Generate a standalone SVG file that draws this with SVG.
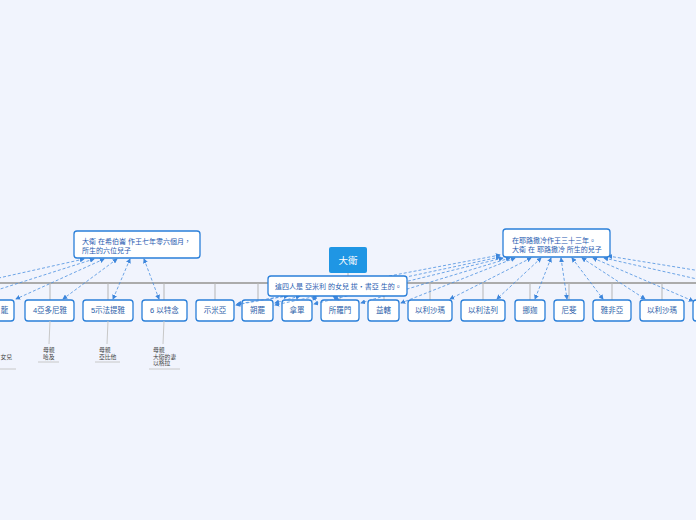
<svg xmlns="http://www.w3.org/2000/svg" width="696" height="520" viewBox="0 0 696 520">
<defs>
<style>
text{font-family:"Liberation Sans","Noto Sans CJK TC",sans-serif;}
.bg{fill:#f1f4fd;}
.node rect{fill:#fff;stroke:#2a7fd9;stroke-width:1.3;}
.node text{font-size:7.5px;fill:#2a5ea8;text-anchor:middle;}
.ann rect{fill:#fff;stroke:#2a7fd9;stroke-width:1.3;}
.ann text{font-size:7px;fill:#1f5bb0;}
.root rect{fill:#1f96e4;}
.root text{font-size:9.5px;fill:#fff;text-anchor:middle;}
.trunk{stroke:#ababab;stroke-width:2;fill:none;}
.tick{stroke:#b5b5b5;stroke-width:1;fill:none;}
.sub text{font-size:5.8px;fill:#444;}
.sub line{stroke:#c8c8c8;stroke-width:1;}
.dash{stroke:#4a8fe0;stroke-width:0.8;stroke-dasharray:3,2;fill:none;marker-start:url(#ah);marker-end:url(#ah);}
</style>
<marker id="ah" viewBox="0 0 6 6" refX="5" refY="3" markerWidth="5" markerHeight="5" orient="auto-start-reverse" markerUnits="userSpaceOnUse">
<path d="M0,0 L6,3 L0,6 z" fill="#3d86dc"/>
</marker>
</defs>
<rect class="bg" x="0" y="0" width="696" height="520"/>

<g id="trunk">
<line class="trunk" x1="0" y1="283" x2="696" y2="283"/>
<line class="tick" x1="348" y1="273" x2="348" y2="283"/>
<line class="tick" x1="-11" y1="283" x2="-11" y2="300"/>
<line class="tick" x1="50" y1="283" x2="50" y2="300"/>
<line class="tick" x1="108" y1="283" x2="108" y2="300"/>
<line class="tick" x1="164" y1="283" x2="164" y2="300"/>
<line class="tick" x1="215" y1="283" x2="215" y2="300"/>
<line class="tick" x1="258" y1="283" x2="258" y2="300"/>
<line class="tick" x1="297" y1="283" x2="297" y2="300"/>
<line class="tick" x1="340" y1="283" x2="340" y2="300"/>
<line class="tick" x1="384" y1="283" x2="384" y2="300"/>
<line class="tick" x1="430" y1="283" x2="430" y2="300"/>
<line class="tick" x1="483" y1="283" x2="483" y2="300"/>
<line class="tick" x1="530" y1="283" x2="530" y2="300"/>
<line class="tick" x1="569" y1="283" x2="569" y2="300"/>
<line class="tick" x1="612" y1="283" x2="612" y2="300"/>
<line class="tick" x1="662" y1="283" x2="662" y2="300"/>
</g>

<g id="root" class="root"><rect x="329" y="247" width="38" height="26" rx="2"/><text x="348" y="264">大衛</text></g>

<g id="n3" class="node"><rect x="-36" y="300" width="50" height="21" rx="3"/><text x="4.5" y="313">龍</text></g>
<g id="n4" class="node"><rect x="25" y="300" width="49" height="21" rx="3"/><text x="50" y="313">4亞多尼雅</text></g>
<g id="n5" class="node"><rect x="83" y="300" width="50" height="21" rx="3"/><text x="108" y="313">5示法提雅</text></g>
<g id="n6" class="node"><rect x="142" y="300" width="45" height="21" rx="3"/><text x="164.5" y="313">6 以特念</text></g>
<g id="j1" class="node"><rect x="196" y="300" width="38" height="21" rx="3"/><text x="215" y="313">示米亞</text></g>
<g id="j2" class="node"><rect x="242" y="300" width="31" height="21" rx="3"/><text x="257.5" y="313">朔罷</text></g>
<g id="j3" class="node"><rect x="282" y="300" width="30" height="21" rx="3"/><text x="297" y="313">拿單</text></g>
<g id="j4" class="node"><rect x="321" y="300" width="38" height="21" rx="3"/><text x="340" y="313">所羅門</text></g>
<g id="j5" class="node"><rect x="368" y="300" width="31" height="21" rx="3"/><text x="383.5" y="313">益轄</text></g>
<g id="j6" class="node"><rect x="408" y="300" width="44" height="21" rx="3"/><text x="430" y="313">以利沙瑪</text></g>
<g id="j7" class="node"><rect x="461" y="300" width="44" height="21" rx="3"/><text x="483" y="313">以利法列</text></g>
<g id="j8" class="node"><rect x="515" y="300" width="30" height="21" rx="3"/><text x="530" y="313">挪迦</text></g>
<g id="j9" class="node"><rect x="554" y="300" width="30" height="21" rx="3"/><text x="569" y="313">尼斐</text></g>
<g id="j10" class="node"><rect x="593" y="300" width="38" height="21" rx="3"/><text x="612" y="313">雅非亞</text></g>
<g id="j11" class="node"><rect x="640" y="300" width="44" height="21" rx="3"/><text x="662" y="313">以利沙瑪</text></g>
<g id="j12" class="node"><rect x="693" y="300" width="44" height="21" rx="3"/></g>

<g id="sub3" class="sub"><line x1="-11" y1="321" x2="-11" y2="343"/><text x="0.5" y="359">女兒</text><line x1="-20" y1="369" x2="16" y2="369"/></g>
<g id="sub4" class="sub"><line x1="50" y1="321" x2="49" y2="344"/><text x="43" y="352">母親</text><text x="43" y="359">哈及</text><line x1="38" y1="362" x2="59" y2="362"/></g>
<g id="sub5" class="sub"><line x1="108" y1="321" x2="107" y2="344"/><text x="99" y="352">母親</text><text x="99" y="359">亞比他</text><line x1="95" y1="362" x2="120" y2="362"/></g>
<g id="sub6" class="sub"><line x1="164" y1="321" x2="163" y2="344"/><text x="153" y="352">母親</text><text x="153" y="358.5">大衛的妻</text><text x="153" y="365">以格拉</text><line x1="149" y1="369" x2="180" y2="369"/></g>

<g id="connectors">
<path class="dash" d="M84,259 L-100,300"/>
<path class="dash" d="M94,259 L-31,299"/>
<path class="dash" d="M104,259 L16,299"/>
<path class="dash" d="M117,259 L63,299"/>
<path class="dash" d="M130,259 L113,299"/>
<path class="dash" d="M144,259 L159,299"/>

<path class="dash" d="M500,255 L236,305"/>
<path class="dash" d="M500,257 L275,305"/>
<path class="dash" d="M503,258 L314,304"/>
<path class="dash" d="M510,258 L361,303"/>
<path class="dash" d="M515,258 L401,303"/>
<path class="dash" d="M531,258 L450,299"/>
<path class="dash" d="M541,258 L497,299"/>
<path class="dash" d="M551,258 L535,299"/>
<path class="dash" d="M561,258 L567,299"/>
<path class="dash" d="M572,258 L603,299"/>
<path class="dash" d="M582,258 L645,299"/>
<path class="dash" d="M593,258 L693,301"/>
<path class="dash" d="M604,258 L790,300"/>
<path class="dash" d="M608,256 L880,300"/>

<path class="dash" d="M288,296 L237,304"/>
<path class="dash" d="M300,296 L275,303"/>
<path class="dash" d="M316,296 L313,300"/>
<path class="dash" d="M333,296 L339,300"/>
</g>

<g id="ann-hebron" class="ann"><rect x="74" y="231" width="126" height="27" rx="3"/><text x="82" y="244">大衛 在希伯崙 作王七年零六個月，</text><text x="82" y="253">所生的六位兒子</text></g>
<g id="ann-jerusalem" class="ann"><rect x="503" y="229" width="107" height="28" rx="3"/><text x="512" y="243">在耶路撒冷作王三十三年。</text><text x="512" y="252">大衛 在 耶路撒冷 所生的兒子</text></g>
<g id="ann-bathsheba" class="ann"><rect x="268" y="276" width="139" height="20" rx="3"/><text x="275" y="289">這四人是 亞米利 的女兒 拔‧書亞 生的。</text></g>
</svg>
